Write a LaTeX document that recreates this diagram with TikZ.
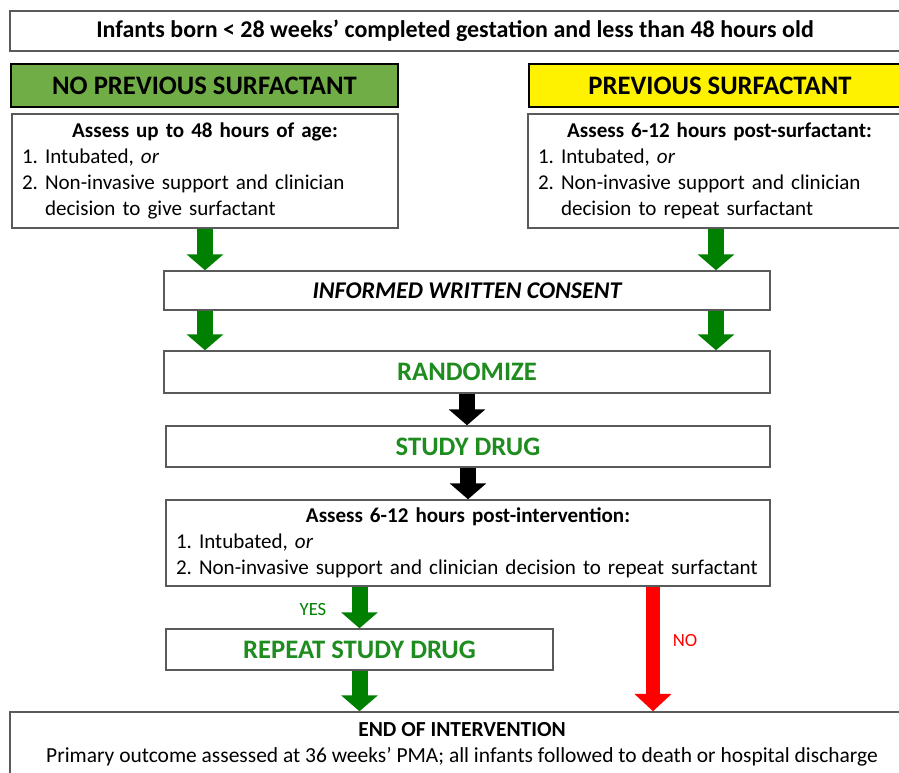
\documentclass[tikz,border=0pt]{standalone}
\usepackage{fontspec}
\setmainfont{Carlito}
\usetikzlibrary{arrows.meta}
\frenchspacing

\definecolor{hdrgreen}{RGB}{112,173,71}
\definecolor{arrgreen}{RGB}{0,128,0}
\definecolor{txtgreen}{RGB}{30,140,30}
\definecolor{boxgray}{RGB}{90,90,90}

\tikzset{
  box/.style={draw=boxgray, line width=1.1pt, fill=white, inner sep=0pt},
  hdr/.style={draw=black, line width=2.2pt, inner sep=0pt, font=\fontsize{20}{24}\selectfont\bfseries},
  bodytext/.style={font=\fontsize{15.8}{19.5}\selectfont, align=left, inner xsep=7.5pt},
  bigtext/.style={font=\fontsize{20}{24}\selectfont\bfseries, text=txtgreen},
  fatarrow/.style={line width=12pt, -{Triangle[width=27pt,length=12pt]}},
  thinarrow/.style={line width=10.5pt, -{Triangle[width=27pt,length=13pt]}}
}

\begin{document}
\begin{tikzpicture}[x=0.75pt, y=-0.75pt]
\useasboundingbox (0,0) rectangle (899,772);

% header row
\node[box, minimum width=890*0.75pt, minimum height=40*0.75pt,
      font=\fontsize{18}{21}\selectfont\bfseries] (top) at (455,31)
      {Infants born < 28 weeks’ completed gestation and less than 48 hours old};

\node[hdr, fill=hdrgreen, minimum width=387*0.75pt, minimum height=43*0.75pt] (nohdr) at (204.5,85.5) {NO PREVIOUS SURFACTANT};
\node[hdr, fill=yellow, minimum width=382*0.75pt, minimum height=43*0.75pt] (yeshdr) at (720,85.5) {PREVIOUS SURFACTANT};

% assessment boxes
\node[box, bodytext, text width=366*0.75pt, minimum height=114*0.75pt] (lassess) at (205,171)
  {\makebox[\linewidth]{\bfseries Assess up to 48 hours of age:}\\
   1. Intubated, \textit{or}\\
   2. Non-invasive support and clinician\\
   \hphantom{2.\ }decision to give surfactant};
\node[box, bodytext, text width=363*0.75pt, minimum height=114*0.75pt] (rassess) at (719.5,171)
  {\makebox[\linewidth]{\bfseries Assess 6-12 hours post-surfactant:}\\
   1. Intubated, \textit{or}\\
   2. Non-invasive support and clinician\\
   \hphantom{2.\ }decision to repeat surfactant};

% main column
\node[box, minimum width=606*0.75pt, minimum height=39*0.75pt,
      font=\fontsize{18}{21}\selectfont\bfseries\itshape] (consent) at (467,290.5) {INFORMED WRITTEN CONSENT};
\node[box, bigtext, minimum width=606*0.75pt, minimum height=42*0.75pt] (rand) at (467,372) {RANDOMIZE};
\node[box, bigtext, minimum width=604*0.75pt, minimum height=41*0.75pt] (study) at (468,446.5) {STUDY DRUG};
\node[box, bodytext, text width=584*0.75pt, minimum height=86*0.75pt] (post) at (468,543)
  {\makebox[\linewidth]{\bfseries Assess 6-12 hours post-intervention:}\\
   1. Intubated, \textit{or}\\
   2. Non-invasive support and clinician decision to repeat surfactant};
\node[box, bigtext, minimum width=387*0.75pt, minimum height=41*0.75pt] (repeat) at (359.5,649.5) {REPEAT STUDY DRUG};
\node[box, font=\fontsize{16.1}{19.5}\selectfont, align=center, minimum width=904*0.75pt, minimum height=64*0.75pt] (endbox) at (462,744)
  {\textbf{END OF INTERVENTION}\\
   Primary outcome assessed at 36 weeks’ PMA; all infants followed to death or hospital discharge};

% labels
\node[text=arrgreen, font=\fontsize{14}{16}\selectfont] (yes) at (313,609) {YES};
\node[text=red, font=\fontsize{14}{16}\selectfont] (no) at (685,640) {NO};

% arrows
\coordinate (rx) at (716,0);
\coordinate (nox) at (653,0);
\draw[fatarrow, arrgreen] (lassess.south) -- (lassess.south |- consent.north);
\draw[fatarrow, arrgreen] (rassess.south -| rx) -- (consent.north -| rx);
\draw[fatarrow, arrgreen] (consent.south -| lassess.south) -- (rand.north -| lassess.south);
\draw[fatarrow, arrgreen] (consent.south -| rx) -- (rand.north -| rx);
\draw[fatarrow, black] (rand.south) -- (rand.south |- study.north);
\draw[fatarrow, black] (study.south) -- (study.south |- post.north);
\draw[fatarrow, arrgreen] (post.south -| repeat.north) -- (repeat.north);
\draw[fatarrow, arrgreen] (repeat.south) -- (repeat.south |- endbox.north);
\draw[thinarrow, red] (post.south -| nox) -- (endbox.north -| nox);
\end{tikzpicture}
\end{document}
